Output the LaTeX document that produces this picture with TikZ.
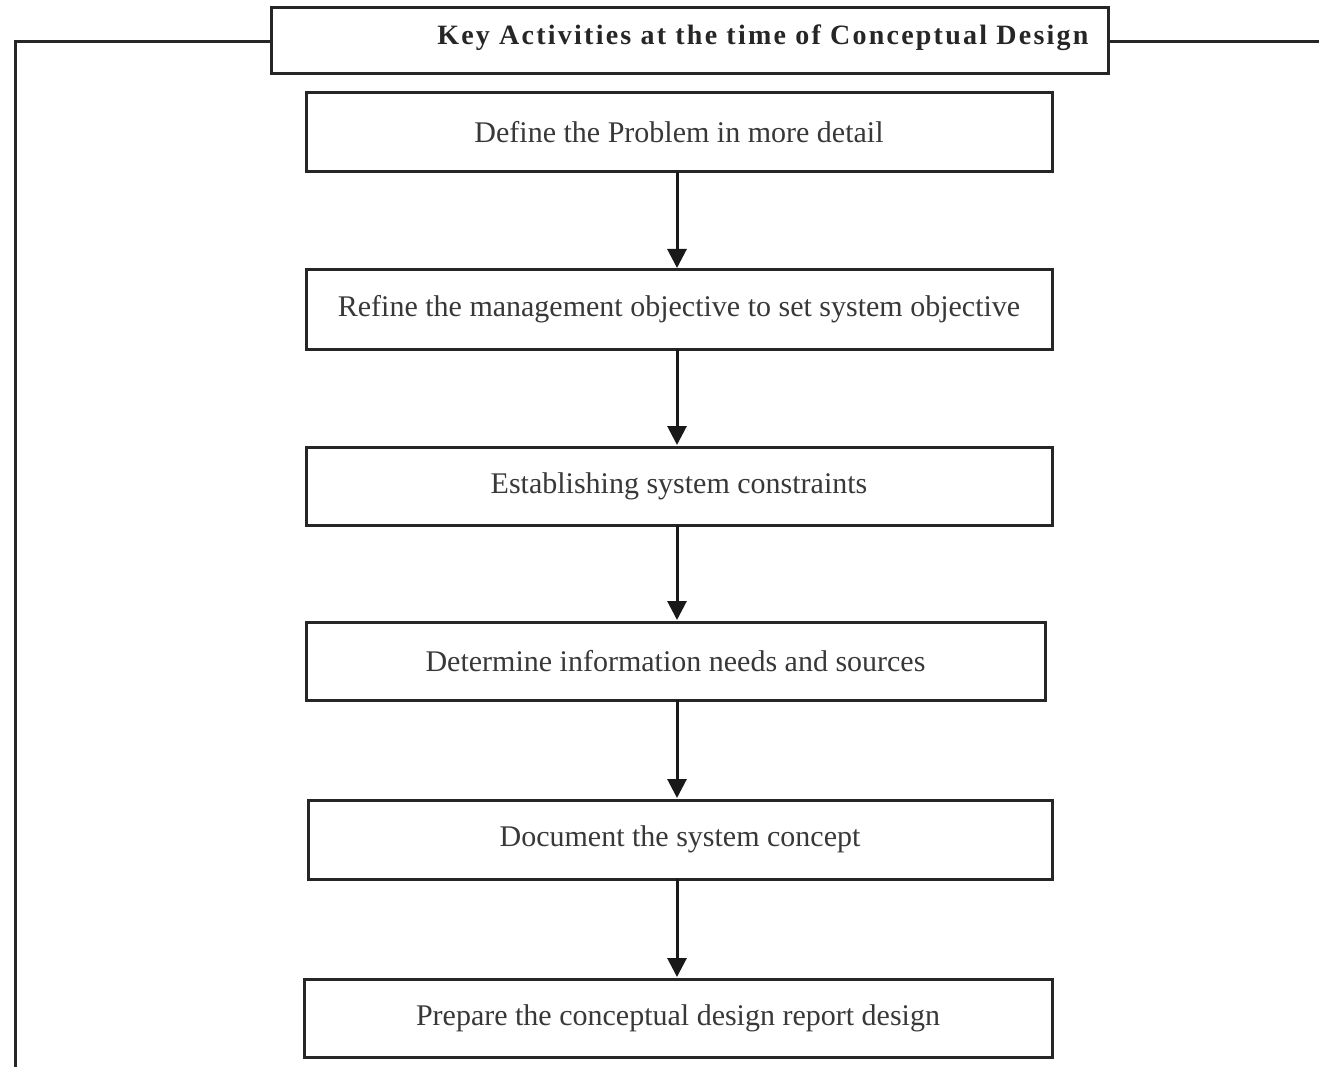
\documentclass[tikz,border=0pt]{standalone}
\usepackage{fontspec}
\setmainfont{Liberation Serif}
\usetikzlibrary{arrows.meta}
\begin{document}
\begin{tikzpicture}[x=1pt,y=-1pt,
  stepbox/.style={draw=black!85, line width=3pt, inner sep=0pt, font=\fontsize{30}{33}\selectfont, text=black!78},
  headbox/.style={draw=black!85, line width=3pt, inner sep=0pt},
  headtext/.style={font=\fontsize{28}{32}\selectfont\bfseries\addfontfeature{LetterSpace=8}, text=black!85},
  flow/.style={draw=black!90, line width=3pt, -{Triangle[length=19pt,width=19pt]}},
  rail/.style={draw=black!85, line width=3pt}]
\useasboundingbox (0,0) rectangle (1319,1067);
% title box
\node[headbox, minimum width=837pt, minimum height=66pt] (head) at (689.5,41) {};
\node[headtext, anchor=east] (headtxt) at (1092,38) {Key Activities at the time of Conceptual Design};
% steps
\node[stepbox, minimum width=746pt, minimum height=79pt] (s1) at (679,132.5) {Define the Problem in more detail};
\node[stepbox, minimum width=746pt, minimum height=79pt] (s2) at (679,309.5) {Refine the management objective to set system objective};
\node[stepbox, minimum width=746pt, minimum height=78pt] (s3) at (679,486) {Establishing system constraints};
\node[stepbox, minimum width=739pt, minimum height=78pt] (s4) at (675.5,661) {Determine information needs and sources};
\node[stepbox, minimum width=744pt, minimum height=79pt] (s5) at (680,839.5) {Document the system concept};
\node[stepbox, minimum width=748pt, minimum height=78pt] (s6) at (678,1018) {Prepare the conceptual design report design};
% connectors
\coordinate (a1) at (677,172); \coordinate (b1) at (677,268);
\coordinate (a2) at (677,349); \coordinate (b2) at (677,445);
\coordinate (a3) at (677,525); \coordinate (b3) at (677,620);
\coordinate (a4) at (677,700); \coordinate (b4) at (677,798);
\coordinate (a5) at (677,879); \coordinate (b5) at (677,977);
\draw[flow] (a1) -- (b1);
\draw[flow] (a2) -- (b2);
\draw[flow] (a3) -- (b3);
\draw[flow] (a4) -- (b4);
\draw[flow] (a5) -- (b5);
% side rails
\coordinate (lc) at (15,42);
\coordinate (lb) at (15,1067);
\coordinate (re) at (1319,42);
\draw[rail] (head.west |- lc) -- (lc) -- (lb);
\draw[rail] (head.east |- re) -- (re);
\end{tikzpicture}
\end{document}
